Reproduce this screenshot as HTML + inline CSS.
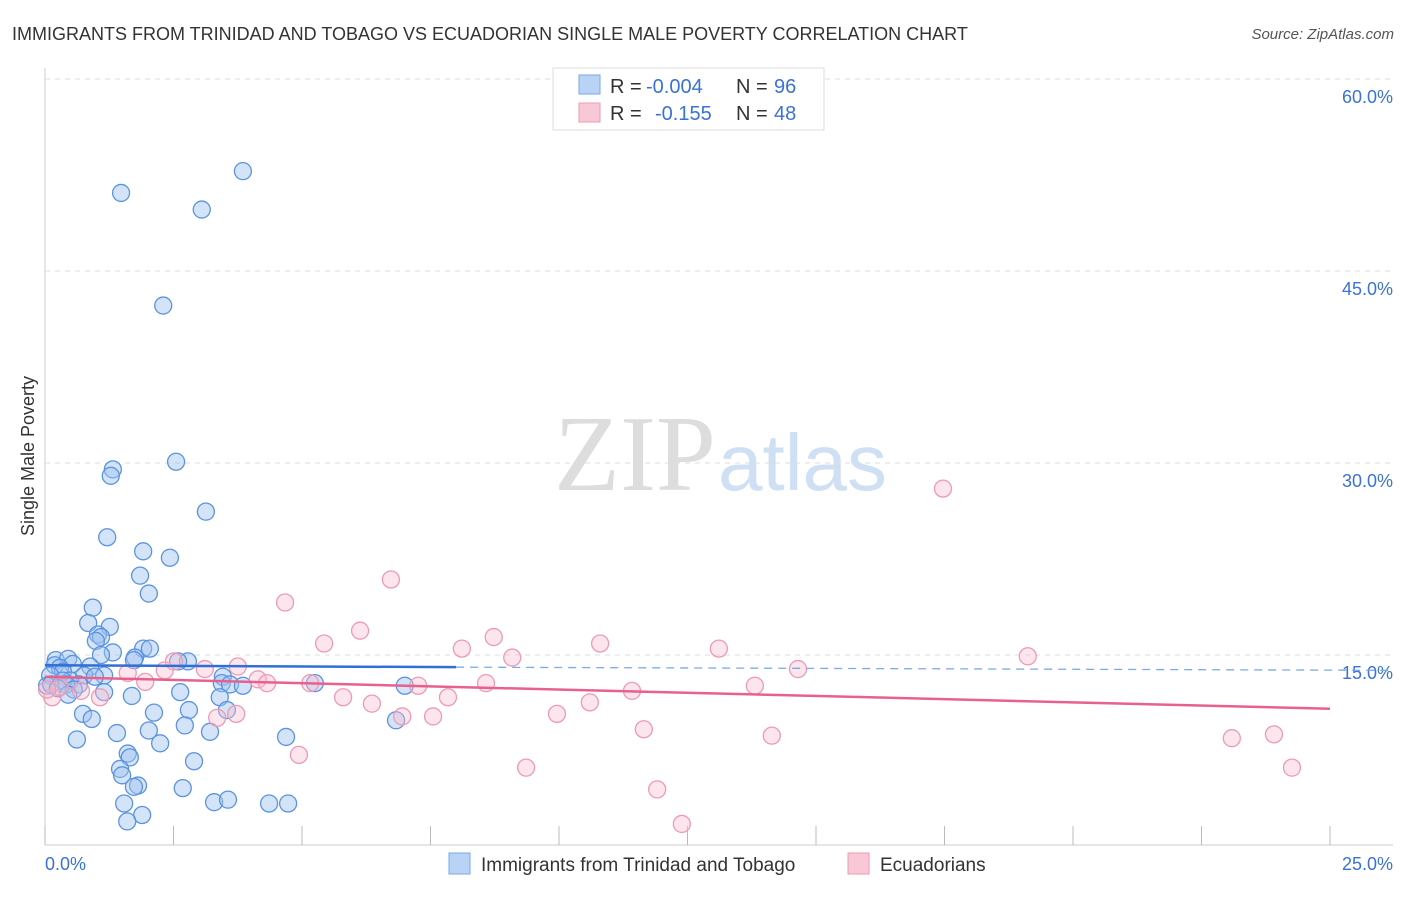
<!DOCTYPE html>
<html><head><meta charset="utf-8"><style>
body{margin:0;background:#fff;font-family:"Liberation Sans",sans-serif;}
</style></head><body>
<svg width="1406" height="892" id="c" xmlns="http://www.w3.org/2000/svg">
<text x="12" y="40" font-size="18" fill="#333">IMMIGRANTS FROM TRINIDAD AND TOBAGO VS ECUADORIAN SINGLE MALE POVERTY CORRELATION CHART</text>
<text x="1394" y="39" font-size="15" fill="#555" font-style="italic" text-anchor="end">Source: ZipAtlas.com</text>
<text x="716" y="490" font-size="108" fill="#ddd" text-anchor="end" font-family="Liberation Serif">ZIP</text>
<text x="718" y="490" font-size="80" fill="#cfe0f5">atlas</text>
<g id="grid"></g><g id="pts"></g><g id="lines"></g>
<text transform="translate(34,456) rotate(-90)" font-size="18" fill="#333" text-anchor="middle">Single Male Poverty</text>
<g>
<rect x="553" y="68" width="271" height="62" fill="#fff" stroke="#ddd"/>
<rect x="579" y="75" width="21" height="19" fill="#b8d3f5" stroke="#7aaae8"/>
<rect x="579" y="103" width="21" height="19" fill="#f9c8d6" stroke="#ee9ab3"/>
<text x="610" y="93" font-size="20" fill="#333">R =</text>
<text x="646" y="93" font-size="20" fill="#3a72d6">-0.004</text>
<text x="736" y="93" font-size="20" fill="#333">N =</text>
<text x="774" y="93" font-size="20" fill="#3a72d6">96</text>
<text x="610" y="120" font-size="20" fill="#333">R =</text>
<text x="655" y="120" font-size="20" fill="#3a72d6">-0.155</text>
<text x="736" y="120" font-size="20" fill="#333">N =</text>
<text x="774" y="120" font-size="20" fill="#3a72d6">48</text>
</g>
<g>
<rect x="449" y="853" width="21" height="21" fill="#b8d3f5" stroke="#7aaae8"/>
<text x="481" y="871" font-size="19" fill="#333">Immigrants from Trinidad and Tobago</text>
<rect x="848" y="853" width="21" height="21" fill="#f9c8d6" stroke="#ee9ab3"/>
<text x="880" y="871" font-size="19" fill="#333">Ecuadorians</text>
</g>
<text x="45" y="870" font-size="18" fill="#3a72d6">0.0%</text>
<text x="1393" y="870" font-size="18" fill="#3a72d6" text-anchor="end">25.0%</text>
</svg>
<script>
const yTicks=[15,30,45,60];
const xTicks=[0,2.5,5,7.5,10,12.5,15,17.5,20,22.5,25];
const blueX=[1.48,3.85,3.05,2.30,2.55,1.32,1.28,3.13,1.21,1.91,2.43,1.85,2.02,0.93,0.84,1.26,1.03,1.09,0.99,1.91,2.04,1.32,1.09,1.75,1.73,2.78,2.59,0.21,0.45,0.54,0.19,0.88,0.29,0.35,0.10,0.76,1.15,0.97,0.49,0.35,3.46,3.44,3.60,3.85,5.25,7.00,0.04,0.12,0.66,0.41,0.25,0.56,0.45,1.15,1.69,2.63,3.40,3.54,2.12,2.80,0.74,0.91,2.72,3.21,2.02,1.40,2.24,0.62,4.69,6.83,1.61,1.65,1.46,1.50,1.81,1.73,2.90,2.68,3.29,3.56,1.54,4.36,4.73,1.89,1.60];
const blueY=[51.1,52.8,49.8,42.3,30.1,29.5,29.0,26.2,24.2,23.1,22.6,21.2,19.8,18.7,17.5,17.2,16.6,16.4,16.1,15.5,15.5,15.2,15.0,14.8,14.6,14.5,14.5,14.6,14.7,14.3,14.2,14.1,14.0,13.7,13.4,13.4,13.4,13.3,13.0,13.0,13.3,12.8,12.7,12.6,12.8,12.6,12.6,12.7,12.7,12.7,12.4,12.3,11.9,12.1,11.8,12.1,11.7,10.7,10.5,10.7,10.4,10.0,9.5,9.0,9.1,8.9,8.1,8.4,8.6,9.9,7.3,7.0,6.1,5.6,4.8,4.7,6.7,4.6,3.5,3.7,3.4,3.4,3.4,2.5,2.0];
const pinkX=[17.47,6.73,4.67,6.13,5.43,8.73,10.8,8.11,9.09,13.11,19.12,14.65,1.61,2.33,3.11,3.75,4.14,4.32,2.51,1.95,5.16,7.26,8.58,13.81,11.42,7.84,5.8,6.36,10.6,7.55,6.95,9.96,3.72,3.35,1.07,0.7,11.65,14.14,4.94,9.36,11.91,12.39,23.09,23.91,24.26,0.14,0.29,0.04];
const pinkY=[28.0,20.9,19.1,16.9,15.9,16.4,15.9,15.5,14.8,15.5,14.9,13.9,13.6,13.8,13.9,14.1,13.1,12.8,14.5,12.9,12.8,12.6,12.8,12.6,12.2,11.7,11.7,11.2,11.3,10.2,10.2,10.4,10.4,10.1,11.7,12.2,9.2,8.7,7.2,6.2,4.5,1.8,8.5,8.8,6.2,11.7,12.5,12.3];
const X=v=>45+v/25*1285, Y=v=>847-v*12.8;
const NS="http://www.w3.org/2000/svg";
function mk(t,a,p){const e=document.createElementNS(NS,t);for(const k in a)e.setAttribute(k,a[k]);p.appendChild(e);return e;}
const g=document.getElementById('grid');
let ax=mk('line',{x1:45,y1:68,x2:45,y2:845,stroke:'#ccc'},g);


let bx=mk('line',{x1:45,y1:845,x2:1393,y2:845,stroke:'#ccc'},g);


yTicks.forEach(t=>{
 const l=mk('line',{x1:45,x2:1393,y1:Y(t),y2:Y(t),stroke:'#ddd','stroke-dasharray':'5,5'},g);
 
 
 const tx=mk('text',{x:1393,y:Y(t)+24,'font-size':18,fill:'#3a72d6','text-anchor':'end'},g);
 tx.textContent=t.toFixed(1)+'%';
 
 
});
xTicks.forEach(t=>{
 const l=mk('line',{x1:X(t),x2:X(t),y1:826,y2:845,stroke:'#bbb'},g);
 
 
});
const p=document.getElementById('pts');
blueX.forEach((v,i)=>{const c=mk('circle',{cx:X(v),cy:Y(blueY[i]),r:8.5,fill:'rgba(160,196,240,0.45)',stroke:'#5b93e0','stroke-width':1.3},p);
 
 });
pinkX.forEach((v,i)=>{const c=mk('circle',{cx:X(v),cy:Y(pinkY[i]),r:8.5,fill:'rgba(247,190,208,0.4)',stroke:'#ee9ab3','stroke-width':1.3},p);
 
 });
const L=document.getElementById('lines');
let t1=mk('line',{x1:X(0),y1:Y(14.2),x2:X(8.0),y2:Y(14.05),stroke:'#2f6fd6','stroke-width':2.5},L);


let t2=mk('line',{x1:X(8.0),y1:Y(14.05),x2:1393,y2:Y(13.8),stroke:'#7aaae8','stroke-width':1.3,'stroke-dasharray':'8,6'},L);


let t3=mk('line',{x1:X(0),y1:Y(13.3),x2:X(25),y2:Y(10.8),stroke:'#e8608f','stroke-width':2.5},L);


</script>
</body></html>
